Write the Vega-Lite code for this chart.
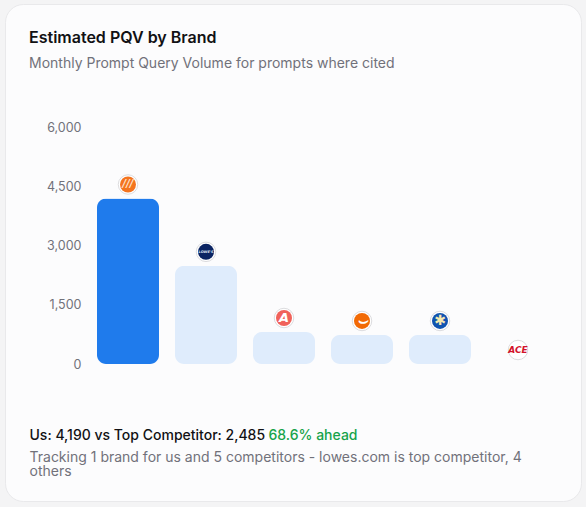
{
"$schema":"https://vega.github.io/schema/vega-lite/v6.json",
"width":576,"height":497,
"autosize":{"type":"none"},
"padding":{"left":5,"top":4,"right":5,"bottom":6},
"background":"#f4f4f5",
"config":{"font":"Inter","view":{"fill":"#fcfcfd","stroke":"#e9e9eb","cornerRadius":18,"strokeWidth":1}},
"title":{"text":"Estimated PQV by Brand","subtitle":"Monthly Prompt Query Volume for prompts where cited","anchor":"start","frame":"group","orient":"top","dx":24,"dy":67,"offset":0,"fontSize":16,"fontWeight":600,"color":"#111114","subtitleFontSize":14,"subtitleFontWeight":400,"subtitleColor":"#71717a","subtitlePadding":11},
"data":{"values":[
{"brand":"homedepot.com","value":4190,"glyph":"///"},
{"brand":"lowes.com","value":2485,"glyph":"LOWE'S"},
{"brand":"angi.com","value":810,"glyph":"A"},
{"brand":"amazon.com","value":735,"glyph":"⌣"},
{"brand":"walmart.com","value":735,"glyph":"✱"},
{"brand":"acehardware.com","value":0,"glyph":"ACE"}
]},
"encoding":{
"x":{"field":"brand","type":"nominal","sort":null,"scale":{"type":"band","range":[84,552],"paddingInner":0.205,"paddingOuter":0.1025}},
"y":{"field":"value","type":"quantitative","scale":{"domain":[0,6000],"range":[360,123],"nice":false},"axis":{"title":null,"orient":"left","offset":-76,"values":[0,1500,3000,4500,6000],"format":",d","grid":false,"domain":false,"ticks":false,"labelPadding":0,"labelFontSize":12.5,"labelColor":"#71717a"}}
},
"layer":[
{"mark":{"type":"bar","cornerRadius":9},
"encoding":{
"x":{"field":"brand","type":"nominal","sort":null,"axis":{"title":"Us: 4,190 vs Top Competitor: 2,485","titleX":24,"titleY":-66,"titleAlign":"left","titleBaseline":"middle","titleFontSize":14,"titleFontWeight":500,"titleColor":"#111114","labels":false,"ticks":false,"domain":false}},
"color":{"field":"brand","legend":null,"sort":null,"scale":{"domain":["homedepot.com","lowes.com","angi.com","amazon.com","walmart.com","acehardware.com"],"range":["#1f7bec","#dfecfc","#dfecfc","#dfecfc","#dfecfc","#dfecfc"]}}}},
{"mark":{"type":"point","filled":true,"yOffset":-14,"size":380,"stroke":"#dcdcdf","strokeWidth":1,"fill":"#ffffff","opacity":1},
"encoding":{
"x":{"field":"brand","type":"nominal","sort":null,"axis":{"title":"68.6% ahead","orient":"bottom","titleX":263,"titleY":-66,"titleAlign":"left","titleBaseline":"middle","titleFontSize":14,"titleFontWeight":500,"titleColor":"#16a34a","labels":false,"ticks":false,"domain":false}}}},
{"mark":{"type":"point","filled":true,"yOffset":-14,"size":256,"opacity":1},
"encoding":{
"x":{"field":"brand","type":"nominal","sort":null,"axis":{"title":["Tracking 1 brand for us and 5 competitors - lowes.com is top competitor, 4","others"],"orient":"bottom","titleX":24,"titleY":-44,"titleAlign":"left","titleBaseline":"middle","titleFontSize":14,"titleFontWeight":400,"titleLineHeight":14,"titleColor":"#71717a","labels":false,"ticks":false,"domain":false}},
"color":{"field":"brand","legend":null,"sort":null,"scale":{"domain":["homedepot.com","lowes.com","angi.com","amazon.com","walmart.com","acehardware.com"],"range":["#f4741f","#0b2463","#f0625a","#f26a05","#1053b0","#ffffff"]}}}},
{"mark":{"type":"text","yOffset":-14,"fontWeight":"bold","font":"DejaVu Sans","fontStyle":"italic","baseline":"middle"},
"encoding":{
"x":{"field":"brand","type":"nominal","sort":null,"axis":null},
"text":{"field":"glyph"},
"size":{"field":"brand","legend":null,"sort":null,"scale":{"type":"ordinal","domain":["homedepot.com","lowes.com","angi.com","amazon.com","walmart.com","acehardware.com"],"range":[10,3.5,13,16,14,9]}},
"color":{"field":"brand","legend":null,"sort":null,"scale":{"domain":["homedepot.com","lowes.com","angi.com","amazon.com","walmart.com","acehardware.com"],"range":["#fde3d0","#dfe6f5","#ffffff","#ffffff","#f4e9b0","#d3122a"]}}}}
],
"resolve":{"scale":{"color":"independent"},"axis":{"x":"independent"}}
}
